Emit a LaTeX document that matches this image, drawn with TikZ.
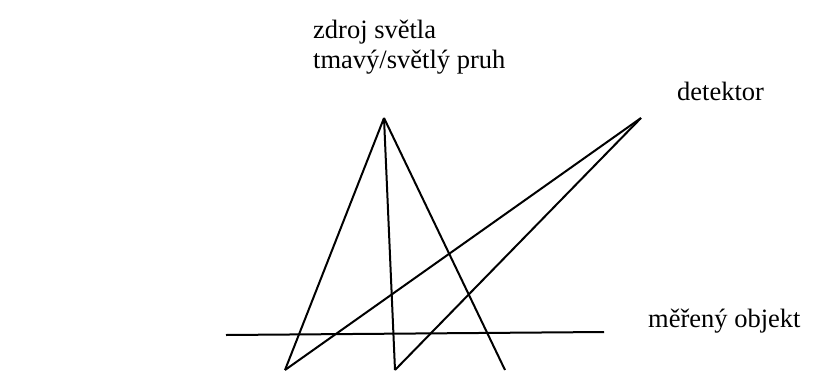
\documentclass[tikz,border=0pt]{standalone}
\usepackage{fontspec}
\setmainfont{Liberation Serif}
\begin{document}
\begin{tikzpicture}[x=1pt,y=-1pt,
  ray/.style={line width=2pt},
  lbl/.style={anchor=base west,inner sep=0pt,font=\fontsize{26.5}{30}\selectfont}]
\useasboundingbox (0,0) rectangle (815,370);
\coordinate (src) at (384,118);
\coordinate (det) at (641,118);
\coordinate (b1) at (285,370);
\coordinate (b2) at (395,370);
\coordinate (b3) at (505,370);
\coordinate (oL) at (226,335);
\coordinate (oR) at (604,332);
\draw[ray] (src) -- (b1);
\draw[ray] (src) -- (b2);
\draw[ray] (src) -- (b3);
\draw[ray] (det) -- (b1);
\draw[ray] (det) -- (b2);
\draw[ray] (oL) -- (oR);
\node[lbl] (t1) at (313,38) {zdroj světla};
\node[lbl] (t2) at (313,68) {tmavý/světlý pruh};
\node[lbl] (t3) at (677,100) {detektor};
\node[lbl] (t4) at (648,327) {měřený objekt};
\end{tikzpicture}
\end{document}
